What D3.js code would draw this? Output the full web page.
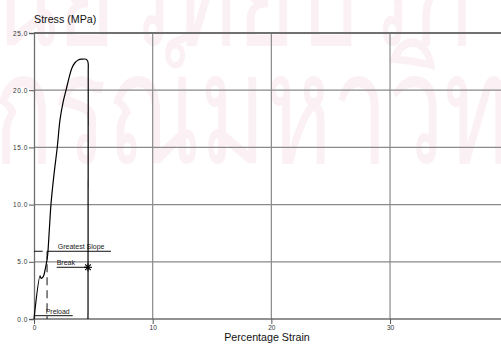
<!DOCTYPE html>
<html>
<head>
<meta charset="utf-8">
<script src="https://cdn.jsdelivr.net/npm/d3@7"></script>
<style>
  html, body { margin: 0; padding: 0; background: #fff; }
  svg { display: block; font-family: "Liberation Sans", Arial, sans-serif; }
</style>
</head>
<body>
<svg id="chart" width="501" height="346"></svg>
<script>
// Tensile test: stress vs. percentage strain
const strain = [0, 0.51, 0.59, 0.78, 0.93, 1.07, 1.15, 1.29, 1.43, 1.68, 1.96, 2.19, 2.44, 2.70, 2.95, 3.18, 3.45, 3.73, 4.04, 4.38, 4.52, 4.57, 4.57, 4.55];
const stress = [0, 3.78, 3.56, 3.70, 4.28, 5.01, 5.59, 7.78, 10.03, 12.6, 15.01, 17.4, 18.9, 20.0, 21.07, 21.9, 22.4, 22.64, 22.71, 22.71, 22.55, 22.29, 21.77, 0];

const xTicks = [0, 10, 20, 30];
const yTicks = [0, 5, 10, 15, 20, 25];

// Test markers: [strain, stress]
const preload = [[0, 0.29], [3.26, 0.29]];
const slopeLeft = [[0, 5.92], [0.73, 5.92]];
const slopeRight = [[1.1, 5.92], [6.49, 5.92]];
const slopeDrop = [[1.1, 5.92], [1.1, 0]];
const breakLine = [[1.91, 4.52], [4.55, 4.52]];
const breakPoint = [4.55, 4.52];

const svg = d3.select("#chart");
const x = d3.scaleLinear().domain([0, 39.35]).range([34, 501]);
const y = d3.scaleLinear().domain([0, 25]).range([319, 33]);

// Faint background watermark
const wm = svg.append("g").attr("fill", "#fbf1f5").style("font-family", "'Noto Sans', 'DejaVu Sans', sans-serif");
wm.append("text").attr("transform", "translate(-75,45) scale(1,1.55)").attr("font-size", 100).text("ศูนย์วิทยบริการ");
wm.append("text").attr("transform", "translate(-300,163) scale(1,1.55)").attr("font-size", 100).text("จุฬาลงกรณ์มหาวิทยาลัย");

// Grid
const grid = svg.append("g");
grid.selectAll("line.v").data(xTicks.filter(d => d > 0)).join("line")
  .attr("x1", d => x(d)).attr("x2", d => x(d))
  .attr("y1", y(25)).attr("y2", y(0))
  .attr("stroke", "#8a8a8a").attr("stroke-width", 1.2);
grid.selectAll("line.h").data(yTicks.filter(d => d > 0 && d < 25)).join("line")
  .attr("x1", x(0)).attr("x2", 501)
  .attr("y1", d => y(d)).attr("y2", d => y(d))
  .attr("stroke", "#8a8a8a").attr("stroke-width", 1.2);
grid.append("line")
  .attr("x1", x(0)).attr("x2", 501).attr("y1", y(25)).attr("y2", y(25))
  .attr("stroke", "#707070").attr("stroke-width", 2);

// Axes
const yAxis = d3.axisLeft(y).tickValues(yTicks).tickSize(5).tickPadding(1).tickFormat(d3.format(".1f"));
const xAxis = d3.axisBottom(x).tickValues(xTicks).tickSize(5).tickPadding(1).tickFormat(d3.format("d"));

const gy = svg.append("g").attr("transform", `translate(${x(0)},0)`).call(yAxis);
const gx = svg.append("g").attr("transform", `translate(0,${y(0)})`).call(xAxis);
[gx, gy].forEach(g => {
  g.select(".domain").attr("stroke", "#6e6e6e").attr("stroke-width", 1.3);
  g.selectAll(".tick line").attr("stroke", "#555");
  g.selectAll(".tick text").attr("fill", "#333").attr("font-size", 6.5)
    .style("font-family", "'Liberation Sans', Arial, sans-serif");
});
gy.selectAll(".tick text").attr("letter-spacing", 0.6);
gx.select(".domain").attr("d", `M${x(0)},0H501`);

// Axis titles
svg.append("text").attr("x", 34).attr("y", 23).attr("font-size", 10.7).attr("fill", "#111").text("Stress (MPa)");
svg.append("text").attr("x", 267).attr("y", 341).attr("text-anchor", "middle").attr("font-size", 10.7).attr("fill", "#111").text("Percentage Strain");

// Markers
const seg = d3.line().x(d => x(d[0])).y(d => y(d[1]));
const ann = svg.append("g").attr("fill", "none").attr("stroke", "#111").attr("stroke-width", 1);
ann.append("path").attr("d", seg(preload));
ann.append("path").attr("d", seg(slopeLeft));
ann.append("path").attr("d", seg(slopeRight));
ann.append("path").attr("d", seg(slopeDrop)).attr("stroke-dasharray", "8,5");
ann.append("path").attr("d", seg(breakLine));

const lab = svg.append("g").attr("font-size", 7).attr("fill", "#222");
lab.append("text").attr("x", x(2.0)).attr("y", y(5.92) - 2).text("Greatest Slope");
lab.append("text").attr("x", x(1.91)).attr("y", y(4.52) - 2).text("Break");
lab.append("text").attr("x", x(0.98)).attr("y", y(0.29) - 1.5).text("Preload");

// Break point asterisk
const bx = x(breakPoint[0]), by = y(breakPoint[1]);
const star = svg.append("g").attr("stroke", "#000").attr("stroke-width", 1.1);
[0, 45, 90, 135].forEach(a => {
  const r = 4, t = a * Math.PI / 180;
  star.append("line")
    .attr("x1", bx - r * Math.cos(t)).attr("y1", by - r * Math.sin(t))
    .attr("x2", bx + r * Math.cos(t)).attr("y2", by + r * Math.sin(t));
});

// Stress-strain curve: smooth loading part, then the vertical drop at failure
const pts = strain.map((s, i) => [s, stress[i]]);
const n = pts.length;
const smooth = d3.line().x(d => x(d[0])).y(d => y(d[1])).curve(d3.curveCatmullRom.alpha(0.5));
const curveG = svg.append("g").attr("fill", "none").attr("stroke", "#000").attr("stroke-width", 1.2).attr("stroke-linejoin", "round");
curveG.append("path").attr("d", smooth(pts.slice(0, n - 1)));
curveG.append("path").attr("d", seg(pts.slice(n - 2)));
</script>
</body>
</html>
